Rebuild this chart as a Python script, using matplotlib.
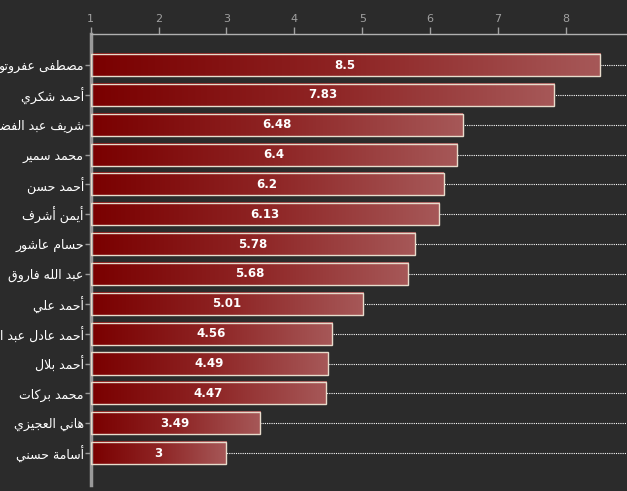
import numpy as np
import matplotlib
matplotlib.use("Agg")
import matplotlib.pyplot as plt
from matplotlib.colors import LinearSegmentedColormap

names = ["مصطفى عفروتو", "أحمد شكري", "شريف عبد الفضيل", "محمد سمير",
         "أحمد حسن", "أيمن أشرف", "حسام عاشور", "عبد الله فاروق",
         "أحمد علي", "أحمد عادل عبد المنعم", "أحمد بلال", "محمد بركات",
         "هاني العجيزي", "أسامة حسني"]
values = [8.5, 7.83, 6.48, 6.4, 6.2, 6.13, 5.78, 5.68, 5.01, 4.56, 4.49, 4.47, 3.49, 3]
value_labels = ["8.5", "7.83", "6.48", "6.4", "6.2", "6.13", "5.78", "5.68",
                "5.01", "4.56", "4.49", "4.47", "3.49", "3"]
xticks = [1, 2, 3, 4, 5, 6, 7, 8]

# minimal arabic shaping: char -> (isolated form, joins on both sides)
forms = {
    'ا': (0xFE8D, False), 'أ': (0xFE83, False), 'ب': (0xFE8F, True),
    'ة': (0xFE93, False), 'ت': (0xFE95, True), 'ج': (0xFE9D, True),
    'ح': (0xFEA1, True), 'د': (0xFEA9, False), 'ر': (0xFEAD, False),
    'ز': (0xFEAF, False), 'س': (0xFEB1, True), 'ش': (0xFEB5, True),
    'ص': (0xFEB9, True), 'ض': (0xFEBD, True), 'ط': (0xFEC1, True),
    'ع': (0xFEC9, True), 'ف': (0xFED1, True), 'ق': (0xFED5, True),
    'ك': (0xFED9, True), 'ل': (0xFEDD, True), 'م': (0xFEE1, True),
    'ن': (0xFEE5, True), 'ه': (0xFEE9, True), 'و': (0xFEED, False),
    'ى': (0xFEEF, False), 'ي': (0xFEF1, True),
}


def shape(word):
    # lam-alef ligature
    chars = []
    i = 0
    while i < len(word):
        if word[i] == 'ل' and i + 1 < len(word) and word[i + 1] == 'ا':
            chars.append('LA')
            i += 2
        else:
            chars.append(word[i])
            i += 1
    out = []
    for k, c in enumerate(chars):
        prev = chars[k - 1] if k > 0 else None
        nxt = chars[k + 1] if k + 1 < len(chars) else None
        join_prev = prev is not None and prev in forms and forms[prev][1]
        if c == 'LA':
            out.append(chr(0xFEFC) if join_prev else chr(0xFEFB))
            continue
        base, dual = forms[c]
        join_next = dual and nxt is not None and (nxt in forms or nxt == 'LA')
        if join_prev and join_next:
            out.append(chr(base + 3))
        elif join_prev:
            out.append(chr(base + 1))
        elif join_next:
            out.append(chr(base + 2))
        else:
            out.append(chr(base))
    return ''.join(out)[::-1]


def visual(name):
    return ' '.join(shape(w) for w in name.split(' ')[::-1])


bg = '#2b2b2b'
fig = plt.figure(figsize=(6.27, 4.91), dpi=100, facecolor=bg)
ax = fig.add_axes([0.1447, 0.0122, 0.8553, 0.9186], facecolor=bg)

cmap = LinearSegmentedColormap.from_list('bar', ['#7a0000', '#8e2424', '#a65858'])
grad = np.linspace(0, 1, 256).reshape(1, -1)
h = 0.74
y = np.arange(len(values))

for i, v in enumerate(values):
    ax.imshow(grad, cmap=cmap, aspect='auto', extent=[1, v, i + h / 2, i - h / 2],
              zorder=2, interpolation='bilinear')
ax.barh(y, np.array(values) - 1, left=1, height=h, facecolor='none',
        edgecolor='#e8dccc', linewidth=1.0, zorder=3)

for i, v in enumerate(values):
    ax.text((1 + v) / 2, i, value_labels[i], color='white', fontsize=8.5,
            fontweight='bold', ha='center', va='center', zorder=4)

for i in y:
    ax.axhline(i, color='white', linestyle=(0, (1, 1)), linewidth=0.8, zorder=1)

ax.set_xlim(1, 8.9)
ax.set_ylim(len(values) - 1 + 1.07, -1.04)

ax.xaxis.tick_top()
ax.set_xticks(xticks)
ax.set_xticklabels([str(t) for t in xticks])
ax.tick_params(axis='x', colors='#a0a0a0', labelsize=8, length=5, width=1, pad=2)

ax.set_yticks(y)
ax.set_yticklabels([visual(n) for n in names], family=['DejaVu Sans'])
ax.tick_params(axis='y', colors='#9a9a9a', labelcolor='white', labelsize=9,
               length=4, width=1, pad=1)

for s in ['right', 'bottom']:
    ax.spines[s].set_visible(False)
ax.spines['top'].set_color('#b0b0b0')
ax.spines['top'].set_linewidth(1)
ax.spines['left'].set_color('#9a9a9a')
ax.spines['left'].set_linewidth(2.5)

fig.savefig('out.png', dpi=100, facecolor=bg)
